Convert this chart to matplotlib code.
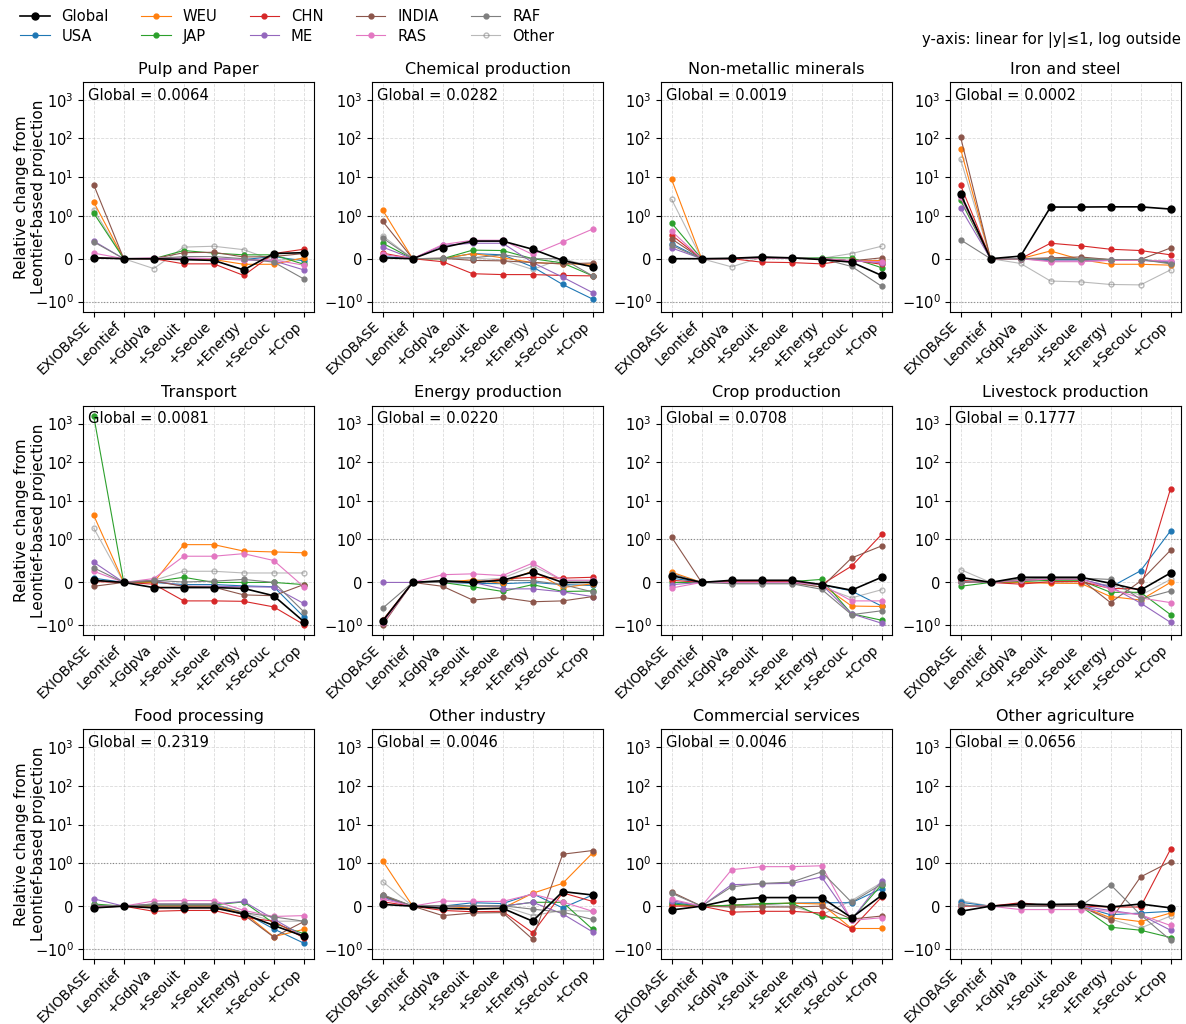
import matplotlib
matplotlib.use("Agg")
import matplotlib.pyplot as plt

# Шаги сценария (ось x) и регионы
steps = ["EXIOBASE", "Leontief", "+GdpVa", "+Seouit", "+Seoue", "+Energy", "+Secouc", "+Crop"]
regions = ["Global", "USA", "WEU", "JAP", "CHN", "ME", "INDIA", "RAS", "RAF", "Other"]

sectors = ["Pulp and Paper", "Chemical production", "Non-metallic minerals", "Iron and steel",
           "Transport", "Energy production", "Crop production", "Livestock production",
           "Food processing", "Other industry", "Commercial services", "Other agriculture"]
global_share = [0.0064, 0.0282, 0.0019, 0.0002, 0.0081, 0.0220,
                0.0708, 0.1777, 0.2319, 0.0046, 0.0046, 0.0656]

# Значения по секторам: строки в порядке regions, столбцы в порядке steps
pulp_paper = [
    [0.02, 0, 0.0, -0.02, -0.04, -0.26, 0.12, 0.14],
    [0.02, 0, 0.0, 0.0, 0.0, -0.02, 0.05, -0.05],
    [2.25, 0, 0.0, -0.02, -0.02, -0.13, -0.13, 0.02],
    [1.17, 0, 0.0, 0.19, 0.13, 0.09, 0.09, -0.13],
    [0.02, 0, 0.0, -0.12, -0.12, -0.39, 0.12, 0.22],
    [0.41, 0, 0.0, 0.0, 0.0, -0.03, -0.05, -0.26],
    [6.3, 0, 0.0, 0.14, 0.15, 0.04, 0.05, 0.12],
    [0.13, 0, 0.02, 0.02, 0.0, -0.02, -0.03, -0.15],
    [0.39, 0, 0.0, 0.05, 0.05, 0.0, -0.08, -0.47],
    [1.43, 0, -0.23, 0.27, 0.29, 0.21, -0.04, 0.0],
]
chemical = [
    [0.02, 0, 0.26, 0.41, 0.41, 0.22, -0.04, -0.19],
    [0.05, 0, 0.0, 0.12, 0.09, -0.19, -0.6, -0.94],
    [1.4, 0, 0.0, 0.12, 0.02, -0.09, -0.12, -0.13],
    [0.36, 0, 0.0, 0.2, 0.19, 0.0, -0.1, -0.4],
    [0.13, 0, -0.07, -0.35, -0.37, -0.37, -0.39, -0.4],
    [0.27, 0, 0.31, 0.36, 0.36, -0.09, -0.43, -0.79],
    [0.87, 0, 0.01, -0.04, -0.05, -0.09, -0.12, -0.1],
    [0.1, 0, 0.33, 0.43, 0.43, 0.1, 0.39, 0.69],
    [0.48, 0, 0.01, 0.02, 0.09, 0.0, 0.0, -0.4],
    [0.53, 0, 0.01, 0.02, -0.03, -0.25, 0.0, -0.19],
]
nonmetal = [
    [0.0, 0, 0.01, 0.04, 0.02, -0.02, -0.08, -0.39],
    [0.35, 0, 0.0, 0.02, 0.01, 0.0, -0.05, -0.05],
    [8.7, 0, 0.0, 0.02, 0.01, 0.0, -0.05, -0.04],
    [0.83, 0, 0.0, 0.02, 0.01, 0.02, 0.02, -0.21],
    [0.55, 0, 0.0, -0.08, -0.09, -0.12, -0.03, -0.13],
    [0.25, 0, 0.0, 0.02, 0.01, 0.0, -0.05, -0.09],
    [0.46, 0, 0.0, 0.02, 0.01, 0.0, -0.05, 0.02],
    [0.64, 0, 0.0, 0.02, 0.01, 0.0, -0.05, -0.07],
    [0.31, 0, 0.0, 0.03, 0.02, 0.0, -0.18, -0.64],
    [2.65, 0, -0.19, 0.03, 0.02, 0.01, 0.12, 0.29],
]
iron_steel = [
    [3.7, 0, 0.06, 1.68, 1.68, 1.7, 1.7, 1.49],
    [3.2, 0, 0.0, -0.02, -0.02, -0.02, -0.02, -0.08],
    [54, 0, 0.0, 0.18, -0.02, -0.13, -0.13, -0.15],
    [2.5, 0, 0.0, 0.0, 0.0, -0.02, -0.02, -0.1],
    [6.2, 0, 0.0, 0.36, 0.30, 0.22, 0.19, 0.09],
    [1.58, 0, 0.0, -0.05, -0.05, -0.04, -0.04, -0.08],
    [110, 0, 0.0, 0.02, 0.04, -0.02, -0.02, 0.25],
    [3.0, 0, 0.0, -0.07, -0.07, -0.04, -0.04, -0.05],
    [0.44, 0, 0.0, 0.0, 0.0, -0.02, -0.02, -0.12],
    [29, 0, -0.11, -0.52, -0.54, -0.6, -0.61, -0.26],
]
transport = [
    [0.05, 0, -0.12, -0.12, -0.12, -0.14, -0.31, -0.91],
    [0.1, 0, 0.0, -0.05, -0.05, -0.08, -0.1, -0.8],
    [4.2, 0, 0.0, 0.88, 0.88, 0.73, 0.71, 0.69],
    [1550, 0, 0.02, 0.12, 0.0, 0.0, 0.0, -0.05],
    [0.02, 0, -0.04, -0.43, -0.43, -0.44, -0.57, -0.98],
    [0.47, 0, 0.05, -0.09, -0.09, -0.1, -0.11, -0.49],
    [-0.09, 0, 0.03, -0.09, -0.11, -0.29, -0.31, -0.05],
    [0.26, 0, 0.09, 0.61, 0.61, 0.67, 0.51, -0.1],
    [0.34, 0, 0.05, 0.01, 0.03, 0.07, 0.0, -0.68],
    [1.96, 0, 0.05, 0.26, 0.26, 0.22, 0.22, 0.22],
]
energy = [
    [-0.9, 0, 0.04, 0.0, 0.05, 0.24, 0.0, 0.0],
    [-0.92, 0, 0.0, -0.02, -0.03, 0.0, -0.05, -0.07],
    [-0.93, 0, 0.0, 0.06, -0.02, 0.27, -0.12, -0.03],
    [-0.9, 0, 0.0, -0.1, -0.21, -0.05, -0.21, -0.2],
    [-0.88, 0, 0.0, 0.0, 0.08, 0.12, 0.1, 0.12],
    [0.0, 0, 0.0, 0.0, -0.15, -0.15, -0.22, -0.33],
    [-0.99, 0, -0.09, -0.41, -0.35, -0.45, -0.43, -0.33],
    [-0.95, 0, 0.18, 0.2, 0.16, 0.45, 0.05, 0.05],
    [-0.6, 0, 0.0, 0.02, 0.05, 0.04, -0.05, -0.22],
    [-0.88, 0, 0.02, 0.05, 0.1, 0.38, 0.05, 0.05],
]
crop = [
    [0.16, 0, 0.05, 0.05, 0.05, -0.05, -0.18, 0.12],
    [0.1, 0, 0.02, 0.02, 0.02, -0.05, -0.2, -0.55],
    [0.24, 0, 0.02, 0.02, 0.02, -0.05, -0.55, -0.56],
    [0.0, 0, 0.02, 0.02, 0.02, 0.07, -0.73, -0.88],
    [0.05, 0, 0.02, 0.02, 0.02, -0.05, 0.38, 1.35],
    [-0.05, 0, 0.0, 0.0, 0.0, -0.05, -0.73, -0.95],
    [1.15, 0, 0.0, 0.0, 0.0, -0.11, 0.57, 0.85],
    [-0.13, 0, 0.0, 0.0, 0.0, -0.05, -0.43, -0.43],
    [0.2, 0, -0.03, -0.03, -0.03, -0.16, -0.75, -0.66],
    [0.2, 0, -0.03, -0.03, -0.03, -0.1, -0.36, -0.17],
]
livestock = [
    [0.12, 0, 0.12, 0.12, 0.12, -0.02, -0.18, 0.22],
    [0.02, 0, 0.05, 0.08, 0.08, -0.11, 0.27, 1.67],
    [0.02, 0, 0.0, -0.02, -0.02, -0.33, -0.41, 0.0],
    [-0.09, 0, 0.02, 0.05, 0.05, -0.23, -0.23, -0.75],
    [0.05, 0, -0.04, 0.02, 0.02, -0.14, -0.15, 20.5],
    [0.02, 0, 0.05, 0.08, 0.08, -0.1, -0.48, -0.93],
    [0.0, 0, 0.05, 0.08, 0.08, -0.47, 0.03, 0.75],
    [0.02, 0, 0.05, 0.08, 0.08, -0.15, -0.36, -0.47],
    [0.02, 0, 0.08, 0.1, 0.1, 0.07, -0.39, -0.2],
    [0.3, 0, 0.0, 0.0, -0.03, -0.05, -0.3, 0.07],
]
food = [
    [-0.04, 0, -0.04, -0.04, -0.04, -0.18, -0.45, -0.7],
    [0.0, 0, 0.03, 0.03, 0.03, -0.15, -0.53, -0.86],
    [0.0, 0, 0.0, 0.0, 0.0, -0.15, -0.71, -0.54],
    [0.05, 0, 0.03, 0.03, 0.03, 0.1, -0.4, -0.64],
    [-0.03, 0, -0.12, -0.1, -0.1, -0.26, -0.35, -0.74],
    [0.17, 0, 0.05, 0.05, 0.05, 0.11, -0.3, -0.7],
    [0.0, 0, 0.0, 0.0, 0.0, -0.2, -0.72, -0.36],
    [0.0, 0, 0.12, 0.13, 0.13, -0.1, -0.24, -0.22],
    [0.02, 0, 0.05, 0.05, 0.05, -0.15, -0.25, -0.35],
    [0.0, 0, 0.0, 0.0, 0.0, -0.15, -0.35, -0.35],
]
other_industry = [
    [0.04, 0, -0.05, -0.07, -0.05, -0.35, 0.34, 0.26],
    [0.21, 0, 0.0, 0.08, 0.06, 0.29, -0.04, 0.26],
    [1.15, 0, 0.0, -0.05, -0.05, 0.3, 0.53, 1.85],
    [0.24, 0, 0.0, 0.0, 0.0, 0.09, 0.09, -0.54],
    [0.1, 0, -0.1, -0.13, -0.12, -0.62, 0.31, 0.11],
    [0.2, 0, 0.0, 0.0, 0.0, 0.09, -0.18, -0.6],
    [0.25, 0, -0.22, -0.16, -0.15, -0.77, 1.71, 2.13],
    [0.16, 0, 0.12, 0.11, 0.11, 0.28, 0.1, -0.12],
    [0.27, 0, 0.01, 0.01, 0.01, -0.07, -0.14, -0.31],
    [0.57, 0, 0.0, 0.0, 0.0, -0.22, -0.1, -0.12],
]
commercial = [
    [-0.09, 0, 0.15, 0.2, 0.2, 0.2, -0.27, 0.25],
    [0.08, 0, 0.02, 0.04, 0.07, 0.08, 0.08, 0.41],
    [0.03, 0, 0.02, 0.05, 0.07, 0.05, -0.52, -0.52],
    [0.05, 0, 0.02, 0.06, 0.07, -0.24, -0.3, 0.5],
    [0.0, 0, -0.14, -0.12, -0.12, -0.16, -0.53, 0.21],
    [0.13, 0, 0.5, 0.52, 0.53, 0.68, -0.32, 0.59],
    [0.33, 0, -0.02, -0.02, -0.02, 0.0, -0.3, -0.23],
    [0.16, 0, 0.85, 0.92, 0.92, 0.94, -0.33, -0.27],
    [0.3, 0, 0.45, 0.53, 0.56, 0.8, 0.09, 0.51],
    [0.1, 0, 0.0, 0.0, 0.0, -0.2, 0.13, 0.55],
]
other_agri = [
    [-0.12, 0, 0.05, 0.04, 0.05, -0.02, 0.05, -0.04],
    [0.09, 0, 0.0, 0.0, 0.0, -0.2, -0.16, -0.12],
    [0.02, 0, 0.0, 0.0, 0.0, -0.27, -0.36, -0.16],
    [0.02, 0, 0.0, 0.0, 0.0, -0.49, -0.56, -0.73],
    [0.0, 0, 0.08, 0.0, 0.0, -0.02, -0.02, 2.3],
    [0.02, 0, 0.0, 0.0, 0.0, -0.1, -0.2, -0.56],
    [0.02, 0, 0.0, 0.0, 0.0, -0.33, 0.68, 1.1],
    [0.02, 0, -0.08, -0.08, -0.08, -0.12, -0.2, -0.45],
    [0.02, 0, 0.0, 0.0, 0.0, 0.5, -0.2, -0.79],
    [0.13, 0, 0.0, 0.0, 0.0, -0.3, -0.51, -0.23],
]

sector_data = [pulp_paper, chemical, nonmetal, iron_steel, transport, energy,
               crop, livestock, food, other_industry, commercial, other_agri]

colors = {"USA": "C0", "WEU": "C1", "JAP": "C2", "CHN": "C3", "ME": "C4",
          "INDIA": "C5", "RAS": "C6", "RAF": "C7"}

fig, axes = plt.subplots(3, 4, figsize=(11.86, 10.24), dpi=100)
fig.subplots_adjust(left=0.0702, right=0.9958, top=0.920, bottom=0.0635,
                    wspace=0.251, hspace=0.41)

x = list(range(len(steps)))
handles = []
for i, ax in enumerate(axes.flat):
    data = sector_data[i]
    for j, reg in enumerate(regions):
        if reg == "Global":
            h, = ax.plot(x, data[j], color="black", marker="o", ms=5, lw=1.2,
                         zorder=5, label=reg)
        elif reg == "Other":
            h, = ax.plot(x, data[j], color="grey", alpha=0.55, marker="o", ms=3.5,
                         mfc="none", lw=0.8, zorder=2, label=reg)
        else:
            h, = ax.plot(x, data[j], color=colors[reg], marker="o", ms=3.5, lw=0.8,
                         zorder=3, label=reg)
        if i == 0:
            handles.append(h)

    ax.set_yscale("symlog", linthresh=1)
    ax.set_ylim(-1.8, 2900)
    ax.set_yticks([-1, 0, 1, 10, 100, 1000])
    ax.axhline(1, color="grey", ls=":", lw=0.8, zorder=1)
    ax.axhline(-1, color="grey", ls=":", lw=0.8, zorder=1)
    ax.grid(True, ls="--", lw=0.6, alpha=0.45)
    ax.set_xticks(x)
    ax.set_xticklabels(steps, rotation=45, ha="right", fontsize=9.8)
    ax.tick_params(axis="x", pad=2)
    ax.tick_params(axis="y", labelsize=10.5)
    ax.set_title(sectors[i], fontsize=11.5)
    ax.text(0.02, 0.975, f"Global = {global_share[i]:.4f}", transform=ax.transAxes,
            ha="left", va="top", fontsize=10.6)
    if i % 4 == 0:
        ax.set_ylabel("Relative change from\nLeontief-based projection", fontsize=11)
        ax.yaxis.set_label_coords(-0.16, 0.5)

fig.legend(handles=handles, loc="upper left", bbox_to_anchor=(0.006, 1.004), ncol=5,
           frameon=False, fontsize=10.6, columnspacing=2.2, handlelength=2.0,
           labelspacing=0.3)
fig.text(0.9958, 0.961, "y-axis: linear for |y|≤1, log outside", ha="right", va="center",
         fontsize=10.7)

plt.savefig("out.png", dpi=100)
